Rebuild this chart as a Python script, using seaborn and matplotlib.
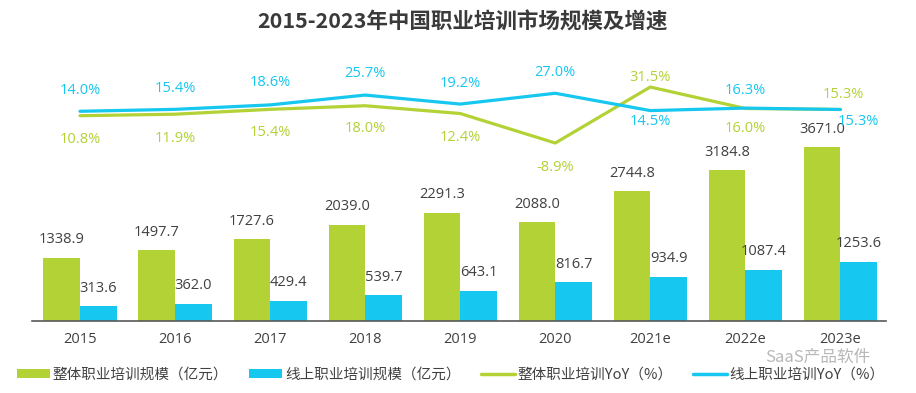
import numpy as np
import pandas as pd
import matplotlib
matplotlib.use("Agg")
import matplotlib.pyplot as plt
import seaborn as sns
from matplotlib.patches import Patch
from matplotlib.lines import Line2D

# ---------------- data ----------------
years = ["2015", "2016", "2017", "2018", "2019", "2020", "2021e", "2022e", "2023e"]
total_scale = [1338.9, 1497.7, 1727.6, 2039.0, 2291.3, 2088.0, 2744.8, 3184.8, 3671.0]
online_scale = [313.6, 362.0, 429.4, 539.7, 643.1, 816.7, 934.9, 1087.4, 1253.6]
total_yoy = [10.8, 11.9, 15.4, 18.0, 12.4, -8.9, 31.5, 16.0, 15.3]
online_yoy = [14.0, 15.4, 18.6, 25.7, 19.2, 27.0, 14.5, 16.3, 15.3]

series_names = ["整体职业培训规模（亿元）", "线上职业培训规模（亿元）",
                "整体职业培训YoY（%）", "线上职业培训YoY（%）"]
title = "2015-2023年中国职业培训市场规模及增速"

# label offsets (pixels) for the YoY annotations
total_off = [(0, -24), (0, -24), (0, -23), (0, -23), (0, -24), (0, -24), (0, 10), (0, -20), (3, 15)]
online_off = [(0, 21), (0, 21), (0, 22), (0, 22), (0, 21), (0, 21), (0, -11), (0, 18), (18, -12)]

GREEN = "#B2D235"
BLUE = "#16C7F0"
TXT = "#404040"

sns.set_theme(style="white")
plt.rcParams["font.family"] = ["Open Sans", "Noto Sans CJK SC", "DejaVu Sans"]
NUMFONT = ["Open Sans", "Noto Sans CJK SC", "DejaVu Sans"]
CJKFONT = ["Noto Sans CJK SC", "DejaVu Sans"]

df = pd.DataFrame({
    "year": years * 2,
    "value": total_scale + online_scale,
    "series": [series_names[0]] * len(years) + [series_names[1]] * len(years),
})

fig = plt.figure(figsize=(9.16, 3.93), dpi=100)
ax = fig.add_axes([32 / 916, 72 / 393, (886 - 32) / 916, 261 / 393])

sns.barplot(data=df, x="year", y="value", hue="series", order=years,
            hue_order=series_names[:2], palette=[GREEN, BLUE], width=0.77,
            gap=0, dodge=True, ax=ax, legend=False, saturation=1,
            edgecolor="none")

ax.set_xlim(-0.505, 8.48)
ax.set_ylim(0, 5518)
ax.set_xlabel("")
ax.set_ylabel("")
ax.set_yticks([])
for s in ["top", "left", "right"]:
    ax.spines[s].set_visible(False)
ax.spines["bottom"].set_color("#595959")
ax.spines["bottom"].set_linewidth(1.2)
ax.tick_params(axis="x", length=0, pad=8, labelsize=10.5, labelcolor=TXT)

# bar value labels
for cont in ax.containers:
    for bar in cont:
        h = bar.get_height()
        ax.annotate(f"{h:.1f}", (bar.get_x() + bar.get_width() / 2, h),
                    xytext=(0, 18), textcoords="offset pixels",
                    ha="center", va="center", fontsize=10.5, color=TXT,
                    family=NUMFONT)

# lines on twin axis
ax2 = ax.twinx()
xpos = np.arange(len(years))
sns.lineplot(x=xpos, y=total_yoy, color=GREEN, linewidth=2.3, ax=ax2, sort=False)
sns.lineplot(x=xpos, y=online_yoy, color=BLUE, linewidth=2.3, ax=ax2, sort=False)
ax2.set_ylim(-137.3, 51.0)
ax2.set_xlim(-0.505, 8.48)
ax2.set_yticks([])
for s in ["top", "left", "right", "bottom"]:
    ax2.spines[s].set_visible(False)

for i in range(len(years)):
    ax2.annotate(f"{total_yoy[i]:.1f}%", (xpos[i], total_yoy[i]), xytext=total_off[i],
                 textcoords="offset pixels", ha="center", va="center",
                 fontsize=10.5, color=GREEN, family=NUMFONT)
    ax2.annotate(f"{online_yoy[i]:.1f}%", (xpos[i], online_yoy[i]), xytext=online_off[i],
                 textcoords="offset pixels", ha="center", va="center",
                 fontsize=10.5, color=BLUE, family=NUMFONT)

# title
fig.text(0.505, 1 - 22 / 393, title, ha="center", va="center",
         fontsize=15.5, fontweight="bold", color="#3A3A3A", family=CJKFONT)

# legend
handles = [Patch(facecolor=GREEN, edgecolor="none"),
           Patch(facecolor=BLUE, edgecolor="none"),
           Line2D([0], [0], color=GREEN, lw=2.5),
           Line2D([0], [0], color=BLUE, lw=2.5)]
leg = fig.legend(handles, series_names, loc="center", ncol=4,
                 bbox_to_anchor=(0.492, 1 - 375 / 393), frameon=False,
                 fontsize=10.5, handlelength=2.3, handleheight=0.6,
                 handletextpad=0.2, columnspacing=1.4, labelcolor=TXT,
                 prop={"family": CJKFONT, "size": 10.5})

# watermark
fig.text(765 / 916, 1 - 357 / 393, "SaaS产品软件", ha="left", va="center",
         fontsize=12, color="#9a9a9a", alpha=0.7, family=CJKFONT)

fig.savefig("out.png", dpi=100)
